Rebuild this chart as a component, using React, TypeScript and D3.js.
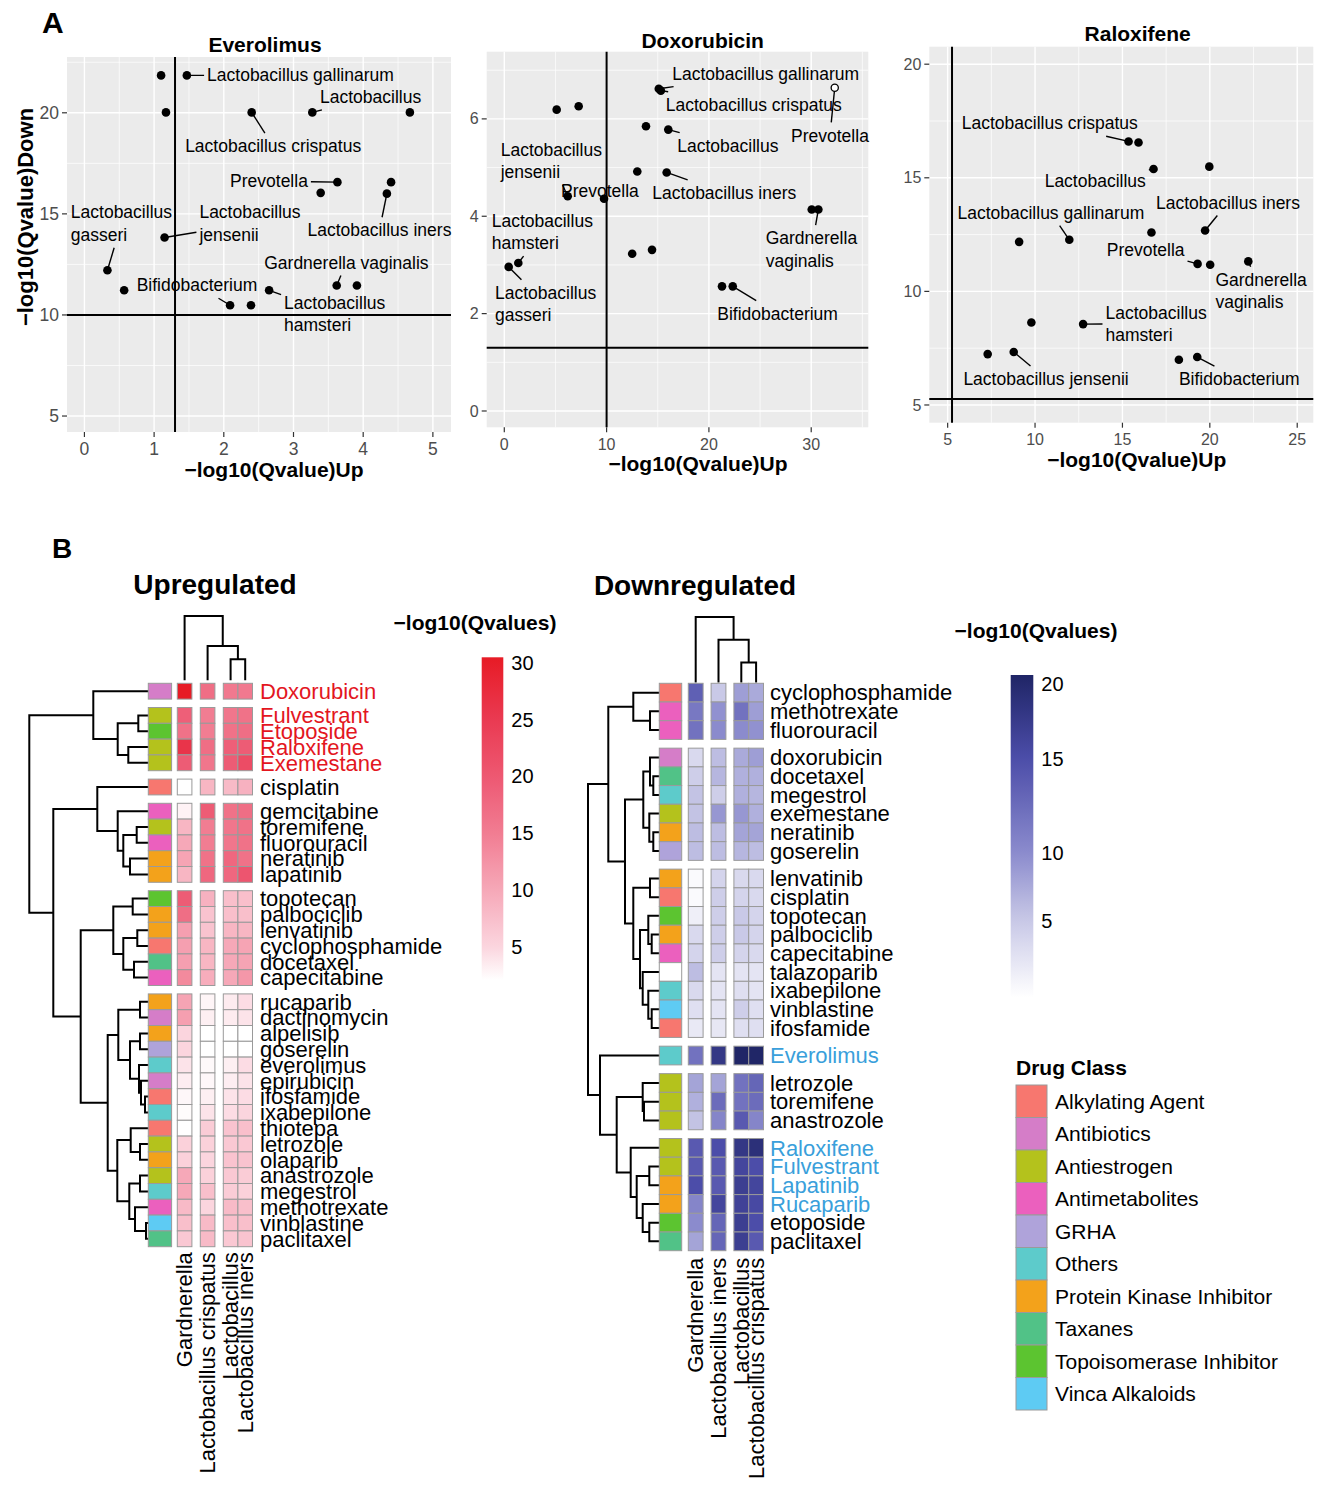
import React from "react";
import * as d3 from "d3";

const FONT = "'Liberation Sans', Arial, Helvetica, sans-serif";

// ---------------- A: -log10(Qvalue) up vs down, one panel per drug ----------------
type Lab = { text: string; pt: number; lx: number; ly: number };

const everolimusPts: [number, number][] = [
  [1.1, 21.85], [1.47, 21.85], [1.17, 20.02], [2.4, 20.02], [3.27, 20.02], [4.67, 20.02],
  [3.63, 16.57], [3.39, 16.04], [4.4, 16.57], [4.34, 16.0], [1.15, 13.83], [0.33, 12.21],
  [0.57, 11.22], [3.62, 11.46], [3.91, 11.46], [2.65, 11.22], [2.09, 10.48], [2.39, 10.48],
];
const everolimusLabels: Lab[] = [
  { text: "Lactobacillus gallinarum", pt: 1, lx: 1.76, ly: 21.86 },
  { text: "Lactobacillus", pt: 4, lx: 3.38, ly: 20.79 },
  { text: "Lactobacillus crispatus", pt: 3, lx: 1.445, ly: 18.35 },
  { text: "Prevotella", pt: 6, lx: 2.09, ly: 16.62 },
  { text: "Lactobacillus iners", pt: 9, lx: 3.2, ly: 14.19 },
  { text: "Lactobacillus\njensenii", pt: 10, lx: 1.65, ly: 15.08 },
  { text: "Lactobacillus\ngasseri", pt: 11, lx: -0.195, ly: 15.08 },
  { text: "Gardnerella vaginalis", pt: 13, lx: 2.58, ly: 12.59 },
  { text: "Bifidobacterium", pt: 16, lx: 0.75, ly: 11.47 },
  { text: "Lactobacillus\nhamsteri", pt: 15, lx: 2.865, ly: 10.61 },
];

const doxorubicinPts: [number, number][] = [
  [5.12, 6.19], [7.27, 6.26], [15.1, 6.62], [15.3, 6.58], [32.3, 6.64], [13.85, 5.85],
  [16.03, 5.78], [13.0, 4.92], [15.87, 4.9], [6.2, 4.41], [9.75, 4.36], [30.05, 4.14],
  [30.7, 4.14], [12.5, 3.23], [14.44, 3.31], [1.37, 3.04], [0.43, 2.96], [21.28, 2.56], [22.33, 2.56],
];
const doxorubicinOpen = [4];
const doxorubicinLabels: Lab[] = [
  { text: "Lactobacillus gallinarum", pt: 2, lx: 16.42, ly: 6.93 },
  { text: "Lactobacillus crispatus", pt: 3, lx: 15.78, ly: 6.29 },
  { text: "Prevotella", pt: 4, lx: 28.03, ly: 5.66 },
  { text: "Lactobacillus", pt: 6, lx: 16.91, ly: 5.45 },
  { text: "Lactobacillus\njensenii", pt: 9, lx: -0.35, ly: 5.37 },
  { text: "Prevotella", pt: 10, lx: 5.54, ly: 4.53 },
  { text: "Lactobacillus iners", pt: 8, lx: 14.47, ly: 4.48 },
  { text: "Lactobacillus\nhamsteri", pt: 15, lx: -1.23, ly: 3.91 },
  { text: "Lactobacillus\ngasseri", pt: 16, lx: -0.91, ly: 2.43 },
  { text: "Gardnerella\nvaginalis", pt: 12, lx: 25.55, ly: 3.55 },
  { text: "Bifidobacterium", pt: 18, lx: 20.82, ly: 2.0 },
];

const raloxifenePts: [number, number][] = [
  [15.35, 16.6], [15.92, 16.55], [16.78, 15.39], [19.97, 15.49], [19.73, 12.68], [16.66, 12.59],
  [11.96, 12.27], [9.09, 12.18], [19.3, 11.21], [20.02, 11.17], [22.2, 11.32], [9.79, 8.63],
  [12.75, 8.56], [7.29, 7.24], [8.78, 7.33], [18.23, 6.99], [19.28, 7.11],
];
const raloxifeneLabels: Lab[] = [
  { text: "Lactobacillus crispatus", pt: 0, lx: 5.81, ly: 17.4 },
  { text: "Lactobacillus", pt: 2, lx: 10.55, ly: 14.87 },
  { text: "Lactobacillus iners", pt: 4, lx: 16.92, ly: 13.91 },
  { text: "Lactobacillus gallinarum", pt: 6, lx: 5.56, ly: 13.47 },
  { text: "Prevotella", pt: 8, lx: 14.1, ly: 11.83 },
  { text: "Gardnerella\nvaginalis", pt: 10, lx: 20.32, ly: 10.51 },
  { text: "Lactobacillus\nhamsteri", pt: 12, lx: 14.03, ly: 9.07 },
  { text: "Lactobacillus jensenii", pt: 14, lx: 5.9, ly: 6.14 },
  { text: "Bifidobacterium", pt: 16, lx: 18.23, ly: 6.14 },
];

// ---------------- B: heatmaps ----------------
const upCols = ["Gardnerella", "Lactobacillus crispatus", "Lactobacillus", "Lactobacillus iners"];
const upRows = [
  "Doxorubicin", "Fulvestrant", "Etoposide", "Raloxifene", "Exemestane", "cisplatin",
  "gemcitabine", "toremifene", "fluorouracil", "neratinib", "lapatinib",
  "topotecan", "palbociclib", "lenvatinib", "cyclophosphamide", "docetaxel", "capecitabine",
  "rucaparib", "dactinomycin", "alpelisib", "goserelin", "everolimus", "epirubicin", "ifosfamide",
  "ixabepilone", "thiotepa", "letrozole", "olaparib", "anastrozole", "megestrol", "methotrexate",
  "vinblastine", "paclitaxel",
];
const upGroupSizes = [1, 4, 1, 5, 6, 16];
const upValues = [
  [30.5, 17, 15.5, 15.5], [19, 15, 16, 16.5], [16.5, 15, 16.5, 17], [26, 17, 19, 19.5], [19.5, 16, 19.5, 22],
  [2, 8.5, 8, 9],
  [3, 19.5, 16.5, 17], [8.5, 15, 16, 16.5], [10, 15, 16, 16.5], [10.5, 16.5, 18, 16.5], [8.5, 18, 18, 20.5],
  [19.5, 9, 7.5, 7.5], [17, 7, 7.5, 7.5], [11, 7, 8.5, 8.5], [11, 8.5, 10, 10.5], [11, 8.5, 10, 10.5], [13.5, 9.5, 10, 12],
  [10.5, 2.8, 3.5, 4.5], [11, 3.2, 3.5, 4], [5, 2.1, 2.1, 2.1], [5, 2.1, 2.1, 2.1], [4, 2.5, 3.2, 4.5],
  [3.3, 2.6, 3.3, 4], [2.6, 3.2, 4, 4.5], [2.3, 4, 4.5, 5], [2.1, 6, 7, 7.5], [5.5, 5.5, 6.5, 6.5],
  [5.5, 5, 7, 7], [10, 5.5, 6.5, 6], [10, 7.5, 6, 5.5], [8, 5, 8, 7.5], [7.5, 8, 7.5, 7.5], [6.5, 8, 6.5, 7],
];
const upRowTree =
  "((Doxorubicin,((Fulvestrant,Etoposide)10,(Raloxifene,Exemestane)20)30.6)55,((cisplatin,(gemcitabine,((toremifene,fluorouracil)11.6,(neratinib,lapatinib)18.3)25)30.6)51,(((topotecan,palbociclib)15.6,((lenvatinib,cyclophosphamide)11,(docetaxel,capecitabine)14.3)25)35,(((rucaparib,dactinomycin)8.3,((alpelisib,goserelin)8.3,(everolimus,(epirubicin,(ifosfamide,ixabepilone)3.3)7.3)9.3)18.3)30,((thiotepa,(letrozole,olaparib)8.3)17.6,((anastrozole,megestrol)8.3,(methotrexate,(vinblastine,paclitaxel)2.3)13.3)19)31)40.6)67.6)95)119";
const upColTree = "(Gardnerella,(Lactobacillus crispatus,(Lactobacillus,Lactobacillus iners)20)33.3)63.3";
const upHighlight = ["Doxorubicin", "Fulvestrant", "Etoposide", "Raloxifene", "Exemestane"];

const downCols = ["Gardnerella", "Lactobacillus iners", "Lactobacillus", "Lactobacillus crispatus"];
const downRows = [
  "cyclophosphamide", "methotrexate", "fluorouracil",
  "doxorubicin", "docetaxel", "megestrol", "exemestane", "neratinib", "goserelin",
  "lenvatinib", "cisplatin", "topotecan", "palbociclib", "capecitabine", "talazoparib", "ixabepilone", "vinblastine", "ifosfamide",
  "Everolimus", "letrozole", "toremifene", "anastrozole",
  "Raloxifene", "Fulvestrant", "Lapatinib", "Rucaparib", "etoposide", "paclitaxel",
];
const downGroupSizes = [3, 6, 9, 1, 3, 6];
const downValues = [
  [13.5, 5, 8.5, 7.5], [11.5, 9.5, 12, 8.5], [12, 10, 10, 9.5],
  [3.5, 6, 7.5, 8.5], [4.5, 6.5, 7, 7], [5.5, 4.5, 7, 6.5], [5.5, 9, 9, 7], [6, 6, 8, 8], [6, 6, 6.5, 6],
  [0.5, 4, 3.5, 3.5], [0.5, 4.5, 4, 3.5], [1.5, 4.5, 5, 4], [3.5, 4.5, 5, 4], [4, 4.5, 4, 3.5],
  [6, 2.5, 2.5, 2.5], [3.5, 2.5, 3, 2.5], [3, 2.5, 4.5, 3], [2, 2.2, 3, 3],
  [12, 18, 20.5, 20.5], [8, 8, 12, 13], [7, 12.5, 12, 12.5], [5.5, 10.5, 14, 10.5],
  [14, 15, 18, 19], [14, 14, 16, 15], [15, 14, 17, 16], [10.5, 16, 16.5, 15.5], [10, 13, 17, 15], [8, 13, 17, 14],
];
const downRowTree =
  "(((cyclophosphamide,(methotrexate,fluorouracil)9.3)26,(((doxorubicin,(docetaxel,megestrol)6)9.3,(exemestane,(neratinib,goserelin)6)10)16,((lenvatinib,cisplatin)9.3,((topotecan,(palbociclib,capecitabine)7.6)11,(talazoparib,(ixabepilone,(vinblastine,ifosfamide)7.6)11)16.6)19.3)26)34.3)51,(Everolimus,((letrozole,(toremifene,anastrozole)15.3)16.6,(Raloxifene,((Fulvestrant,Lapatinib)10,(Rucaparib,(etoposide,paclitaxel)10)16.6)22.6)28.6)42.6)59.3)71.3";
const downColTree = "(Gardnerella,(Lactobacillus iners,(Lactobacillus,Lactobacillus crispatus)19)41.7)64.4";
const downHighlight = ["Everolimus", "Raloxifene", "Fulvestrant", "Lapatinib", "Rucaparib"];

const drugClasses = [
  "Alkylating Agent", "Antibiotics", "Antiestrogen", "Antimetabolites", "GRHA",
  "Others", "Protein Kinase Inhibitor", "Taxanes", "Topoisomerase Inhibitor", "Vinca Alkaloids",
];
const drugClassColors = [
  "#F7776F", "#D57DC8", "#B4C21C", "#EB60BE", "#AFA3DA",
  "#5DCBCB", "#F3A21B", "#51C287", "#5CC430", "#5ECBF3",
];
const drugClassOf: Record<string, string> = {
  doxorubicin: "Antibiotics", dactinomycin: "Antibiotics", epirubicin: "Antibiotics",
  fulvestrant: "Antiestrogen", raloxifene: "Antiestrogen", exemestane: "Antiestrogen", toremifene: "Antiestrogen",
  letrozole: "Antiestrogen", anastrozole: "Antiestrogen",
  etoposide: "Topoisomerase Inhibitor", topotecan: "Topoisomerase Inhibitor",
  cisplatin: "Alkylating Agent", cyclophosphamide: "Alkylating Agent", ifosfamide: "Alkylating Agent", thiotepa: "Alkylating Agent",
  gemcitabine: "Antimetabolites", fluorouracil: "Antimetabolites", capecitabine: "Antimetabolites", methotrexate: "Antimetabolites",
  neratinib: "Protein Kinase Inhibitor", lapatinib: "Protein Kinase Inhibitor", palbociclib: "Protein Kinase Inhibitor",
  lenvatinib: "Protein Kinase Inhibitor", rucaparib: "Protein Kinase Inhibitor", alpelisib: "Protein Kinase Inhibitor",
  olaparib: "Protein Kinase Inhibitor",
  docetaxel: "Taxanes", paclitaxel: "Taxanes",
  goserelin: "GRHA",
  everolimus: "Others", ixabepilone: "Others", megestrol: "Others",
  vinblastine: "Vinca Alkaloids",
};

const upLegendTicks = [5, 10, 15, 20, 25, 30];
const downLegendTicks = [5, 10, 15, 20];

// colour ramps
const upColor = d3
  .scaleLinear<string>()
  .domain([2.07, 5, 10, 15, 20, 25, 30.5])
  .range(["#ffffff", "#fbd5de", "#f6a8b8", "#f17d92", "#ed5872", "#ea3a52", "#e71b25"])
  .clamp(true);
const downColor = d3
  .scaleLinear<string>()
  .domain([0, 5, 10, 15, 20.6])
  .range(["#ffffff", "#c9c9e7", "#8b8bcd", "#4c4da9", "#1f2566"])
  .clamp(true);

// ---------------- helpers ----------------
let measureCtx: CanvasRenderingContext2D | null = null;
function textWidth(s: string, fs: number) {
  if (!measureCtx) measureCtx = document.createElement("canvas").getContext("2d");
  measureCtx!.font = `${fs}px "Liberation Sans", Arial`;
  return measureCtx!.measureText(s).width;
}

type TNode = { name?: string; h: number; children?: TNode[] };
function parseTree(s: string): TNode {
  let i = 0;
  const node = (): TNode => {
    if (s[i] === "(") {
      i++;
      const children = [node()];
      while (s[i] === ",") {
        i++;
        children.push(node());
      }
      i++;
      let num = "";
      while (i < s.length && /[0-9.]/.test(s[i])) num += s[i++];
      return { h: +num, children };
    }
    let name = "";
    while (i < s.length && !/[,()]/.test(s[i])) name += s[i++];
    return { name: name.trim(), h: 0 };
  };
  return node();
}

// builds the path of a dendrogram; pos = position of a leaf along the leaf axis
function dendroPath(root: TNode, leafPos: (n: string) => number, hPos: (h: number) => number, rows: boolean) {
  const pt = (p: number, h: number) => (rows ? `${h},${p}` : `${p},${h}`);
  const pos = (n: TNode): number => {
    if (!n.children) return leafPos(n.name!);
    return (pos(n.children[0]) + pos(n.children[n.children.length - 1])) / 2;
  };
  let d = "";
  const walk = (n: TNode) => {
    if (!n.children) return;
    const H = hPos(n.h);
    const first = pos(n.children[0]);
    const last = pos(n.children[n.children.length - 1]);
    d += `M${pt(first, H)}L${pt(last, H)}`;
    n.children.forEach((c) => {
      const p = pos(c);
      d += `M${pt(p, H)}L${pt(p, hPos(c.h))}`;
      walk(c);
    });
  };
  walk(root);
  return d;
}

// ---------------- scatter panel ----------------
type Panel = {
  title: string;
  pts: [number, number][];
  labels: Lab[];
  open?: number[];
  xDom: [number, number];
  yDom: [number, number];
  xTicks: number[];
  yTicks: number[];
  vline: number;
  hline: number;
  box: [number, number, number, number];
  titleXY: [number, number];
  xTitleXY: [number, number];
  yTitleXY?: [number, number];
  tickFs: number;
};

const panels: Panel[] = [
  {
    title: "Everolimus", pts: everolimusPts, labels: everolimusLabels,
    xDom: [-0.25, 5.26], yDom: [4.21, 22.76], xTicks: [0, 1, 2, 3, 4, 5], yTicks: [5, 10, 15, 20],
    vline: 1.3, hline: 10, box: [67, 57, 451, 432],
    titleXY: [265, 45], xTitleXY: [274, 470], yTitleXY: [25, 217], tickFs: 17.5,
  },
  {
    title: "Doxorubicin", pts: doxorubicinPts, labels: doxorubicinLabels, open: doxorubicinOpen,
    xDom: [-1.72, 35.58], yDom: [-0.335, 7.38], xTicks: [0, 10, 20, 30], yTicks: [0, 2, 4, 6],
    vline: 10, hline: 1.3, box: [486.7, 51.7, 868.3, 427.3],
    titleXY: [702.7, 40.7], xTitleXY: [698, 463.3], tickFs: 16,
  },
  {
    title: "Raloxifene", pts: raloxifenePts, labels: raloxifeneLabels,
    xDom: [3.95, 25.92], yDom: [4.22, 20.77], xTicks: [5, 10, 15, 20, 25], yTicks: [5, 10, 15, 20],
    vline: 5.25, hline: 5.26, box: [929.3, 46.7, 1313.3, 422.7],
    titleXY: [1137.7, 34], xTitleXY: [1136.7, 459.3], tickFs: 16,
  },
];

function minorBreaks(t: number[], dom: [number, number]) {
  const s = t[1] - t[0];
  const out: number[] = [];
  for (let v = t[0] - s / 2; v < dom[1]; v += s) if (v > dom[0]) out.push(v);
  return out;
}

const ScatterPanel = ({ p }: { p: Panel }) => {
  const [bx0, by0, bx1, by1] = p.box;
  const x = d3.scaleLinear().domain(p.xDom).range([bx0, bx1]);
  const y = d3.scaleLinear().domain(p.yDom).range([by1, by0]);
  const FS = 17.5;
  const LH = 22.5;

  const labs = p.labels.map((l) => {
    const lines = l.text.split("\n");
    const lx = x(l.lx);
    const ly = y(l.ly);
    const w = Math.max(...lines.map((s) => textWidth(s, FS)));
    const b = [lx - 3, ly - 13, lx + w + 3, ly + (lines.length - 1) * LH + 13];
    const px = x(p.pts[l.pt][0]);
    const py = y(p.pts[l.pt][1]);
    let seg: number[] | null = null;
    const inside = px >= b[0] && px <= b[2] && py >= b[1] && py <= b[3];
    if (!inside) {
      const dx = (b[0] + b[2]) / 2 - px;
      const dy = (b[1] + b[3]) / 2 - py;
      const tx = dx > 0 ? (b[0] - px) / dx : dx < 0 ? (b[2] - px) / dx : -Infinity;
      const ty = dy > 0 ? (b[1] - py) / dy : dy < 0 ? (b[3] - py) / dy : -Infinity;
      const t = Math.max(tx, ty, 0);
      const len = t * Math.hypot(dx, dy);
      if (len > 4) seg = [px, py, px + t * dx, py + t * dy];
    }
    return { lines, lx, ly, seg };
  });

  return (
    <g>
      <rect x={bx0} y={by0} width={bx1 - bx0} height={by1 - by0} fill="#EBEBEB" />
      {minorBreaks(p.xTicks, p.xDom).map((v) => (
        <line key={"xm" + v} x1={x(v)} x2={x(v)} y1={by0} y2={by1} stroke="#fff" strokeWidth={0.7} />
      ))}
      {minorBreaks(p.yTicks, p.yDom).map((v) => (
        <line key={"ym" + v} x1={bx0} x2={bx1} y1={y(v)} y2={y(v)} stroke="#fff" strokeWidth={0.7} />
      ))}
      {p.xTicks.map((v) => (
        <line key={"xg" + v} x1={x(v)} x2={x(v)} y1={by0} y2={by1} stroke="#fff" strokeWidth={1.4} />
      ))}
      {p.yTicks.map((v) => (
        <line key={"yg" + v} x1={bx0} x2={bx1} y1={y(v)} y2={y(v)} stroke="#fff" strokeWidth={1.4} />
      ))}
      <line x1={x(p.vline)} x2={x(p.vline)} y1={by0} y2={by1} stroke="#000" strokeWidth={2} />
      <line x1={bx0} x2={bx1} y1={y(p.hline)} y2={y(p.hline)} stroke="#000" strokeWidth={2} />
      {labs.map((l, i) =>
        l.seg ? (
          <line key={"s" + i} x1={l.seg[0]} y1={l.seg[1]} x2={l.seg[2]} y2={l.seg[3]} stroke="#000" strokeWidth={1.4} />
        ) : null
      )}
      {p.pts.map((d, i) => {
        const open = p.open && p.open.includes(i);
        return (
          <circle
            key={"p" + i}
            cx={x(d[0])}
            cy={y(d[1])}
            r={open ? 3.6 : 4.3}
            fill={open ? "#fff" : "#000"}
            stroke="#000"
            strokeWidth={open ? 1.3 : 0}
          />
        );
      })}
      {labs.map((l, i) => (
        <text key={"l" + i} x={l.lx} y={l.ly} fontSize={FS} fill="#000">
          {l.lines.map((s, k) => (
            <tspan key={k} x={l.lx} y={l.ly + k * LH} dy="0.35em">
              {s}
            </tspan>
          ))}
        </text>
      ))}
      {p.xTicks.map((v) => (
        <g key={"xt" + v}>
          <line x1={x(v)} x2={x(v)} y1={by1} y2={by1 + 5} stroke="#333" strokeWidth={1.2} />
          <text x={x(v)} y={by1 + 17} dy="0.35em" textAnchor="middle" fontSize={p.tickFs} fill="#4D4D4D">
            {v}
          </text>
        </g>
      ))}
      {p.yTicks.map((v) => (
        <g key={"yt" + v}>
          <line x1={bx0 - 5} x2={bx0} y1={y(v)} y2={y(v)} stroke="#333" strokeWidth={1.2} />
          <text x={bx0 - 8} y={y(v)} dy="0.35em" textAnchor="end" fontSize={p.tickFs} fill="#4D4D4D">
            {v}
          </text>
        </g>
      ))}
      <text x={p.titleXY[0]} y={p.titleXY[1]} dy="0.35em" textAnchor="middle" fontSize={21} fontWeight="bold">
        {p.title}
      </text>
      <text x={p.xTitleXY[0]} y={p.xTitleXY[1]} dy="0.35em" textAnchor="middle" fontSize={21} fontWeight="bold">
        −log10(Qvalue)Up
      </text>
      {p.yTitleXY && (
        <text
          transform={`translate(${p.yTitleXY[0]},${p.yTitleXY[1]}) rotate(-90)`}
          dy="0.35em"
          textAnchor="middle"
          fontSize={22}
          fontWeight="bold"
        >
          −log10(Qvalue)Down
        </text>
      )}
    </g>
  );
};

// ---------------- heatmap ----------------
type HM = {
  rows: string[];
  cols: string[];
  values: number[][];
  groups: number[];
  colGroups: number[];
  rowTree: string;
  colTree: string;
  color: (v: number) => string;
  highlight: string[];
  hiColor: string;
  annX: number;
  annW: number;
  heatX: number;
  colW: number;
  colGap: number;
  top: number;
  rowH: number;
  rowGap: number;
  labelX: number;
  colDendGap: number;
  colLabelGap: number;
};

const Heatmap = ({ m }: { m: HM }) => {
  const rowY: number[] = [];
  let yy = m.top;
  m.groups.forEach((n) => {
    for (let k = 0; k < n; k++) {
      rowY.push(yy);
      yy += m.rowH;
    }
    yy += m.rowGap;
  });
  const bottom = rowY[rowY.length - 1] + m.rowH;
  const colX: number[] = [];
  let xx = m.heatX;
  m.colGroups.forEach((n) => {
    for (let k = 0; k < n; k++) {
      colX.push(xx);
      xx += m.colW;
    }
    xx += m.colGap;
  });
  const rowCenter = new Map(m.rows.map((r, i) => [r, rowY[i] + m.rowH / 2]));
  const colCenter = new Map(m.cols.map((c, i) => [c, colX[i] + m.colW / 2]));
  const rowH = d3.scaleLinear().domain([0, 1]).range([m.annX, m.annX - 1]);
  const colLeafY = m.top - m.colDendGap;
  const colH = d3.scaleLinear().domain([0, 1]).range([colLeafY, colLeafY - 1]);
  const rowD = dendroPath(parseTree(m.rowTree), (n) => rowCenter.get(n)!, rowH, true);
  const colD = dendroPath(parseTree(m.colTree), (n) => colCenter.get(n)!, colH, false);
  const border = "#9a9a9a";

  return (
    <g>
      <path d={rowD} fill="none" stroke="#000" strokeWidth={2} strokeLinecap="square" />
      <path d={colD} fill="none" stroke="#000" strokeWidth={2} strokeLinecap="square" />
      {m.rows.map((r, i) => {
        const cls = drugClassOf[r.toLowerCase()];
        const ci = drugClasses.indexOf(cls);
        return (
          <rect
            key={"a" + i}
            x={m.annX}
            y={rowY[i]}
            width={m.annW}
            height={m.rowH}
            fill={ci >= 0 ? drugClassColors[ci] : "#fff"}
            stroke={border}
            strokeWidth={1}
          />
        );
      })}
      {m.values.map((row, i) =>
        row.map((v, j) => (
          <rect
            key={`c${i}-${j}`}
            x={colX[j]}
            y={rowY[i]}
            width={m.colW}
            height={m.rowH}
            fill={m.color(v)}
            stroke={border}
            strokeWidth={1}
          />
        ))
      )}
      {m.rows.map((r, i) => (
        <text
          key={"r" + i}
          x={m.labelX}
          y={rowY[i] + m.rowH / 2}
          dy="0.35em"
          fontSize={22}
          fill={m.highlight.includes(r) ? m.hiColor : "#000"}
        >
          {r}
        </text>
      ))}
      {m.cols.map((c, j) => (
        <text
          key={"cl" + j}
          transform={`translate(${colX[j] + m.colW / 2},${bottom + m.colLabelGap}) rotate(-90)`}
          dy="0.35em"
          textAnchor="end"
          fontSize={22}
        >
          {c}
        </text>
      ))}
    </g>
  );
};

const upMap: HM = {
  rows: upRows, cols: upCols, values: upValues, groups: upGroupSizes, colGroups: [1, 1, 2],
  rowTree: upRowTree, colTree: upColTree, color: upColor, highlight: upHighlight, hiColor: "#E3161E",
  annX: 148.3, annW: 23.3, heatX: 177.3, colW: 14.6, colGap: 8.4, top: 683.3, rowH: 15.8, rowGap: 8.4,
  labelX: 260, colDendGap: 4, colLabelGap: 5.5,
};
const downMap: HM = {
  rows: downRows, cols: downCols, values: downValues, groups: downGroupSizes, colGroups: [1, 1, 2],
  rowTree: downRowTree, colTree: downColTree, color: downColor, highlight: downHighlight, hiColor: "#3A9FDB",
  annX: 659.3, annW: 22.4, heatX: 688.3, colW: 14.8, colGap: 8, top: 683.3, rowH: 18.7, rowGap: 8.76,
  labelX: 770, colDendGap: 1.8, colLabelGap: 7,
};

// colour-bar legend
const ColorBar = ({
  id, scale, color, ticks, x, w, title, titleXY,
}: {
  id: string;
  scale: d3.ScaleLinear<number, number>;
  color: (v: number) => string;
  ticks: number[];
  x: number;
  w: number;
  title: string;
  titleXY: [number, number];
}) => {
  const [yb, yt] = [scale.range()[0], scale.range()[scale.range().length - 1]];
  const stops = d3.range(0, 1.0001, 0.05).map((t) => ({ t, c: color(scale.invert(yb + t * (yt - yb))) }));
  return (
    <g>
      <defs>
        <linearGradient id={id} x1="0" y1="1" x2="0" y2="0">
          {stops.map((s, i) => (
            <stop key={i} offset={s.t} stopColor={s.c} />
          ))}
        </linearGradient>
      </defs>
      <text x={titleXY[0]} y={titleXY[1]} dy="0.35em" textAnchor="middle" fontSize={21} fontWeight="bold">
        {title}
      </text>
      <rect x={x} y={yt} width={w} height={yb - yt} fill={`url(#${id})`} />
      {ticks.map((v) => (
        <text key={v} x={x + w + 8} y={scale(v)} dy="0.35em" fontSize={20}>
          {v}
        </text>
      ))}
    </g>
  );
};

const upBarScale = d3.scaleLinear().domain([2.07, 30.5]).range([980, 657.3]);
const downBarScale = d3.scaleLinear().domain([0, 5, 10, 15, 20, 20.6]).range([997.5, 921, 852.5, 758.5, 684, 675]);

export default function App() {
  return (
    <svg
      width={1325}
      height={1488}
      style={{ position: "absolute", left: 0, top: 0, background: "#fff" }}
      fontFamily={FONT}
    >
      <rect width={1325} height={1488} fill="#fff" />
      <text x={42} y={22} dy="0.35em" fontSize={30} fontWeight="bold">
        A
      </text>
      {panels.map((p) => (
        <ScatterPanel key={p.title} p={p} />
      ))}

      <text x={52} y={548} dy="0.35em" fontSize={28} fontWeight="bold">
        B
      </text>
      <text x={215} y={584} dy="0.35em" textAnchor="middle" fontSize={28} fontWeight="bold">
        Upregulated
      </text>
      <text x={695} y={585} dy="0.35em" textAnchor="middle" fontSize={28} fontWeight="bold">
        Downregulated
      </text>
      <Heatmap m={upMap} />
      <Heatmap m={downMap} />
      <ColorBar
        id="upbar" scale={upBarScale} color={upColor} ticks={upLegendTicks} x={481.7} w={21.6}
        title="−log10(Qvalues)" titleXY={[475, 623]}
      />
      <ColorBar
        id="downbar" scale={downBarScale} color={downColor} ticks={downLegendTicks} x={1010.7} w={22.6}
        title="−log10(Qvalues)" titleXY={[1036, 631]}
      />

      <g>
        <text x={1016} y={1068} dy="0.35em" fontSize={21} fontWeight="bold">
          Drug Class
        </text>
        {drugClasses.map((c, i) => (
          <g key={c}>
            <rect x={1016} y={1085 + i * 32.5} width={31} height={32.5} fill={drugClassColors[i]} stroke="#9a9a9a" strokeWidth={1} />
            <text x={1055} y={1085 + i * 32.5 + 16.25} dy="0.35em" fontSize={21}>
              {c}
            </text>
          </g>
        ))}
      </g>
    </svg>
  );
}
